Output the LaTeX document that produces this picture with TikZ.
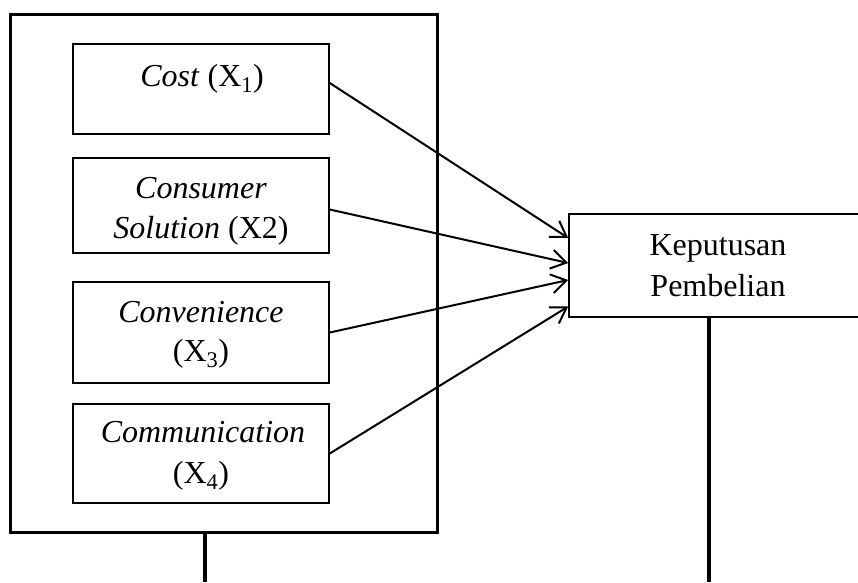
\documentclass[tikz,border=0pt]{standalone}
\usepackage{fontspec}
\setmainfont{Liberation Serif}
\usetikzlibrary{arrows.meta,calc}
\begin{document}
\begin{tikzpicture}[x=1pt,y=-1pt,
  every node/.style={font=\fontsize{32}{40}\selectfont},
  outerbox/.style={draw,line width=3pt,minimum width=427pt,minimum height=518pt,inner sep=0pt},
  varbox/.style={draw,line width=1.6pt,minimum width=256pt,inner sep=0pt},
  resbox/.style={draw,line width=1.6pt,minimum width=298pt,minimum height=103pt,inner sep=0pt},
  txt/.style={anchor=base,inner sep=0pt},
  conn/.style={line width=2pt,-{Straight Barb[length=15pt,width=19pt,line width=2pt]}},
  stub/.style={line width=3.5pt}]
\useasboundingbox (0,0) rectangle (858,582);
\clip (0,0) rectangle (858,582);
\node[outerbox] (outer) at (223.5,273) {};
\node[varbox,minimum height=90pt] (b1) at (201,89) {};
\node[varbox,minimum height=95pt] (b2) at (201,205.5) {};
\node[varbox,minimum height=101pt] (b3) at (201,332.5) {};
\node[varbox,minimum height=99pt] (b4) at (201,453.5) {};
\node[resbox] (kp) at (718,265.5) {};
% texts
\node[txt] (t1a) at (202,86) {\textit{Cost} (X\textsubscript{1})};
\node[txt] (t2a) at (201,198) {\textit{Consumer}};
\node[txt] (t2b) at (201,238) {\textit{Solution} (X2)};
\node[txt] (t3a) at (201,322) {\textit{Convenience}};
\node[txt] (t3b) at (201,361) {(X\textsubscript{3})};
\node[txt] (t4a) at (203,442) {\textit{Communication}};
\node[txt] (t4b) at (201,483) {(X\textsubscript{4})};
\node[txt] (k1) at (718,255) {Keputusan};
\node[txt] (k2) at (718,296) {Pembelian};
% connectors
\draw[conn] ($(b1.east)+(0,-6)$) -- ($(kp.west)+(0,-27.5)$);
\draw[conn] ($(b2.east)+(0,4)$) -- ($(kp.west)+(0,-2.5)$);
\draw[conn] (b3.east) -- ($(kp.west)+(0,14.5)$);
\draw[conn] (b4.east) -- ($(kp.west)+(0,41)$);
\coordinate (endL) at (205,582);
\coordinate (endR) at (709,582);
\draw[stub] (endL |- outer.south) -- (endL);
\draw[stub] (endR |- kp.south) -- (endR);
\end{tikzpicture}
\end{document}
